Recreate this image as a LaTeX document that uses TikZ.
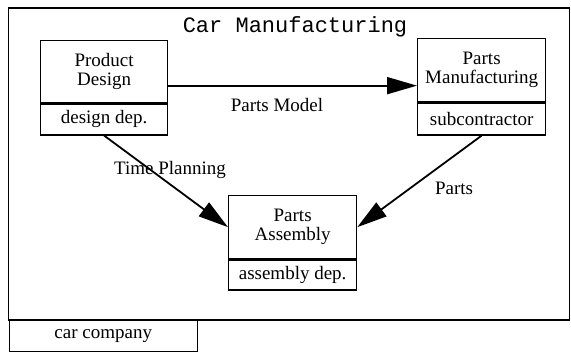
\documentclass[tikz,border=0pt]{standalone}
\usepackage{fontspec}
\setmainfont{Liberation Serif}
\newfontfamily\titlefont{Liberation Mono}
\usetikzlibrary{arrows.meta}

\begin{document}
\begin{tikzpicture}[x=1pt,y=-1pt,
  every node/.style={font=\fontsize{19}{19}\selectfont, inner sep=0pt},
  frame/.style={draw, line width=1.4pt},
  cell/.style={draw, line width=1.3pt, align=center, minimum width=127pt},
  flow/.style={line width=1.8pt, -{Triangle[length=30pt,width=17pt]}},
  title/.style={anchor=base, font=\titlefont\fontsize{22}{22}\selectfont}]

\useasboundingbox (0,0) rectangle (571,352);

% enclosing organisation frame with its name tab
\draw[frame] (8.5,8) rectangle (569.5,320);
\node[frame, minimum width=188pt, minimum height=31pt, anchor=north west]
  (tab) at (8.5,320) {car company};
\node[title] (title) at (295,33) {Car Manufacturing};

% activities with their responsible department underneath
\node[cell, minimum height=62pt, anchor=north west] (pd) at (40,40) {Product\\Design};
\node[cell, minimum height=31pt, anchor=north] (pdd) at (pd.south) {design dep.};

\node[cell, minimum width=128pt, minimum height=63pt, anchor=north west] (pm) at (417,38) {Parts\\Manufacturing};
\node[cell, minimum width=128pt, minimum height=32pt, anchor=north] (pmd) at (pm.south) {subcontractor};

\node[cell, minimum width=128pt, minimum height=63pt, anchor=north west] (pa) at (228,195) {Parts\\Assembly};
\node[cell, minimum width=128pt, minimum height=30pt, anchor=north] (pad) at (pa.south) {assembly dep.};

% flows between activities
\draw[flow] ([yshift=-14pt]pd.east) -- ([yshift=-14pt]pd.east -| pm.west);
\draw[flow] (pdd.south) -- (pa.west);
\draw[flow] (pmd.south) -- (pa.east);

% flow labels
\node[anchor=base] (lm) at (277,112) {Parts Model};
\node[anchor=base] (lt) at (170,175) {Time Planning};
\node[anchor=base] (lp) at (454,195) {Parts};
\end{tikzpicture}
\end{document}
